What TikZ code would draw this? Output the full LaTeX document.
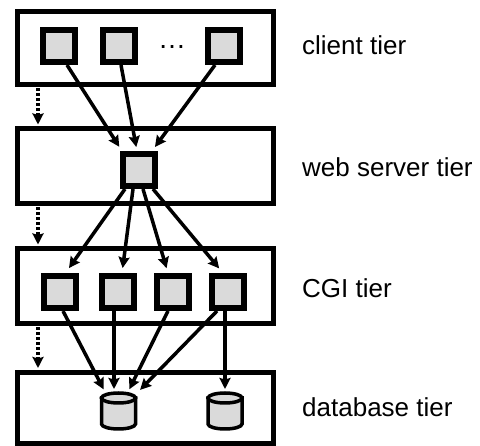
\documentclass[tikz,border=0pt]{standalone}
\usepackage{fontspec}
\setmainfont{Liberation Sans}
\usetikzlibrary{arrows.meta,calc}
\definecolor{boxgray}{RGB}{218,218,218}
\begin{document}
\begin{tikzpicture}[x=1pt,y=-1pt,
  tier/.style={draw, line width=5pt, minimum width=256.5pt, inner sep=0pt},
  proc/.style={draw, line width=6pt, fill=boxgray, minimum size=32pt, inner sep=0pt},
  store/.style={minimum width=37pt, minimum height=38pt, inner sep=0pt, outer sep=0pt},
  cyl/.style={line width=3.5pt, fill=boxgray, draw=black},
  link/.style={line width=3.5pt, -{Stealth[length=11pt,width=11pt,inset=1.5pt]}},
  flow/.style={line width=3.5pt, dash pattern=on 3pt off 2pt,
    -{Stealth[length=11pt,width=11pt,inset=1.5pt]}},
  lbl/.style={anchor=base west, inner sep=0pt, font=\fontsize{26}{31}\selectfont}]
\useasboundingbox (0,0) rectangle (480,446);

% tiers
\node[tier, minimum height=73pt] (client) at (145.25,48.5) {};
\node[tier, minimum height=75pt] (web)    at (145.25,166.5) {};
\node[tier, minimum height=75pt] (cgi)    at (145.25,286.5) {};
\node[tier, minimum height=71pt] (db)     at (145.25,408) {};

% processes
\node[proc] (c1) at (59,46) {};
\node[proc] (c2) at (119,46) {};
\node[proc] (c3) at (224,46) {};
\node[anchor=base, inner sep=0pt, font=\fontsize{28}{32}\selectfont] (cdots) at (172,48.5) {…};
\node[proc] (ws) at (139,170) {};
\node[proc] (g1) at (60,292) {};
\node[proc] (g2) at (117.5,292) {};
\node[proc] (g3) at (173,292) {};
\node[proc] (g4) at (228,292) {};

% databases
\node[store] (d1) at (118.5,411) {};
\node[store] (d2) at (225,411) {};
\foreach \n in {d1,d2}{
  \filldraw[cyl] ($(\n)+(-17,-13)$) -- ($(\n)+(-17,13)$)
    arc[start angle=180, end angle=0, x radius=17, y radius=5]
    -- ($(\n)+(17,-13)$) -- cycle;
  \filldraw[cyl] ($(\n)+(0,-13)$) ellipse[x radius=17, y radius=5];
}

% requests: client -> web server
\draw[link, shorten >=5pt] ($(c1.south)+(8,0)$)  -- ($(ws.north)+(-17,0)$);
\draw[link, shorten >=4pt] ($(c2.south)+(2,0)$)  -- ($(ws.north)+(-2,0)$);
\draw[link, shorten >=5pt] ($(c3.south)+(-9,0)$) -- ($(ws.north)+(13,0)$);

% web server -> CGI
\draw[link, shorten >=6pt] ($(ws.south)+(-14,0)$) -- ($(g1.north)+(5.5,0)$);
\draw[link, shorten >=5pt] ($(ws.south)+(-6,0)$)  -- ($(g2.north)+(4.5,0)$);
\draw[link, shorten >=5pt] ($(ws.south)+(4,0)$)   -- ($(g3.north)+(-5,0)$);
\draw[link, shorten >=6pt] ($(ws.south)+(14,0)$)  -- ($(g4.north)+(-5,0)$);

% CGI -> database
\draw[link, shorten >=3pt] ($(g1.south)+(3,0)$)   -- ($(d1.north)+(-13.5,0)$);
\draw[link, shorten >=3pt] ($(g2.south)+(-3.5,0)$) -- ($(d1.north)+(-4.5,0)$);
\draw[link, shorten >=3pt] ($(g3.south)+(-5,0)$)  -- ($(d1.north)+(9.5,0)$);
\draw[link, shorten >=3pt] ($(g4.south)+(-11,0)$) -- ($(d1.north)+(19.5,0)$);
\draw[link, shorten >=3pt] ($(g4.south)+(-3,0)$)  -- ($(d2.north)+(0,0)$);

% tier ordering
\draw[flow, shorten <=1pt, shorten >=2pt] ($(client.south west)+(23.5,0)$) -- ($(web.north west)+(23.5,0)$);
\draw[flow, shorten <=1pt, shorten >=2pt] ($(web.south west)+(23.5,0)$) -- ($(cgi.north west)+(23.5,0)$);
\draw[flow, shorten <=1pt, shorten >=2pt] ($(cgi.south west)+(23.5,0)$) -- ($(db.north west)+(23.5,0)$);

% labels
\node[lbl] (lclient) at (302,55)  {client tier};
\node[lbl] (lweb)    at (302,177) {web server tier};
\node[lbl] (lcgi)    at (302,298) {CGI tier};
\node[lbl] (ldb)     at (302,417) {database tier};
\end{tikzpicture}
\end{document}
